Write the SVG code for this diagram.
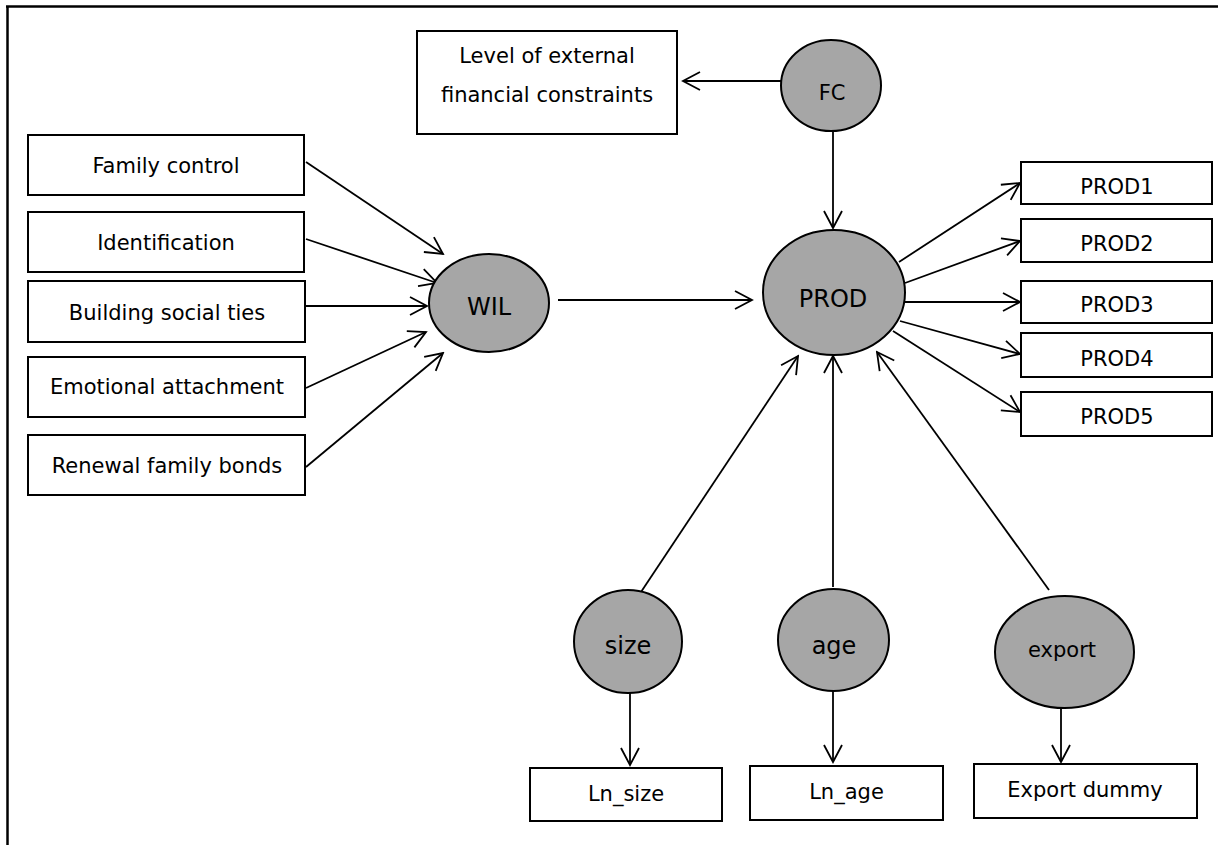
<svg xmlns="http://www.w3.org/2000/svg" width="1218" height="845" viewBox="0 0 1218 845">
<defs>
<style>
.box{fill:#fff;stroke:#000;stroke-width:2}
.lat{fill:#a6a6a6;stroke:#000;stroke-width:2}
.t{font-family:"DejaVu Sans","Liberation Sans",sans-serif;font-size:21px;fill:#000;text-anchor:middle}
.tl{font-family:"DejaVu Sans","Liberation Sans",sans-serif;font-size:24px;fill:#000;text-anchor:middle}
.c{stroke:#000;stroke-width:1.8;fill:none;marker-end:url(#ah)}
</style>
<marker id="ah" viewBox="-20 -12 22 24" refX="0" refY="0" markerWidth="22" markerHeight="24" markerUnits="userSpaceOnUse" orient="auto">
<path d="M-17,-9 L0,0 L-17,9" fill="none" stroke="#000" stroke-width="1.8"/>
</marker>
</defs>
<rect width="1218" height="845" fill="#fff"/>
<g id="frame" stroke="#000" stroke-width="2.5" fill="none">
<line x1="6" y1="6.5" x2="1218" y2="6.5"/>
<line x1="7.5" y1="6" x2="7.5" y2="845"/>
</g>
<g id="connectors">
<line class="c" x1="781" y1="81" x2="683" y2="81"/>
<line class="c" x1="833" y1="131" x2="833" y2="228"/>
<line class="c" x1="306" y1="162" x2="443" y2="254"/>
<line class="c" x1="306" y1="239" x2="437" y2="283"/>
<line class="c" x1="305" y1="306" x2="427" y2="306"/>
<line class="c" x1="306" y1="388" x2="426" y2="332"/>
<line class="c" x1="306" y1="467" x2="443" y2="353"/>
<line class="c" x1="558" y1="300" x2="752" y2="300"/>
<line class="c" x1="899" y1="262" x2="1020" y2="183"/>
<line class="c" x1="905" y1="283" x2="1020" y2="241"/>
<line class="c" x1="905" y1="302" x2="1020" y2="302"/>
<line class="c" x1="900" y1="321" x2="1020" y2="354"/>
<line class="c" x1="893" y1="331" x2="1020" y2="412"/>
<line class="c" x1="641" y1="592" x2="798" y2="356"/>
<line class="c" x1="833" y1="587" x2="833" y2="356"/>
<line class="c" x1="1049" y1="590" x2="877" y2="352"/>
<line class="c" x1="630" y1="693" x2="630" y2="765"/>
<line class="c" x1="833" y1="691" x2="833" y2="762"/>
<line class="c" x1="1061" y1="708" x2="1061" y2="762"/>
</g>
<g id="level-external">
<rect class="box" x="417" y="31" width="260" height="103"/>
<text class="t" x="547" y="63">Level of external</text>
<text class="t" x="547" y="102">financial constraints</text>
</g>
<g id="FC">
<ellipse class="lat" cx="831" cy="85.5" rx="50" ry="45.5"/>
<text class="t" x="832" y="100">FC</text>
</g>
<g id="family-control">
<rect class="box" x="28" y="135" width="276" height="60"/>
<text class="t" x="166" y="173">Family control</text>
</g>
<g id="identification">
<rect class="box" x="28" y="212" width="276" height="60"/>
<text class="t" x="166" y="250">Identification</text>
</g>
<g id="building-social-ties">
<rect class="box" x="28" y="281" width="277" height="61"/>
<text class="t" x="167" y="320">Building social ties</text>
</g>
<g id="emotional-attachment">
<rect class="box" x="28" y="357" width="277" height="60"/>
<text class="t" x="167" y="394">Emotional attachment</text>
</g>
<g id="renewal-family-bonds">
<rect class="box" x="28" y="435" width="277" height="60"/>
<text class="t" x="167" y="473">Renewal family bonds</text>
</g>
<g id="WIL">
<ellipse class="lat" cx="489" cy="303" rx="60" ry="49"/>
<text class="tl" x="489" y="315">WIL</text>
</g>
<g id="PROD">
<ellipse class="lat" cx="834" cy="292.5" rx="71" ry="62.5"/>
<text class="tl" x="833" y="307">PROD</text>
</g>
<g id="PROD1">
<rect class="box" x="1021" y="162" width="191" height="42"/>
<text class="t" x="1117" y="194">PROD1</text>
</g>
<g id="PROD2">
<rect class="box" x="1021" y="219" width="191" height="43"/>
<text class="t" x="1117" y="251">PROD2</text>
</g>
<g id="PROD3">
<rect class="box" x="1021" y="281" width="191" height="42"/>
<text class="t" x="1117" y="312">PROD3</text>
</g>
<g id="PROD4">
<rect class="box" x="1021" y="333" width="191" height="44"/>
<text class="t" x="1117" y="366">PROD4</text>
</g>
<g id="PROD5">
<rect class="box" x="1021" y="392" width="191" height="44"/>
<text class="t" x="1117" y="424">PROD5</text>
</g>
<g id="size">
<ellipse class="lat" cx="628" cy="641.5" rx="54" ry="51.5"/>
<text class="tl" x="628" y="654">size</text>
</g>
<g id="age">
<ellipse class="lat" cx="833.5" cy="640" rx="55.5" ry="51"/>
<text class="tl" x="834" y="654">age</text>
</g>
<g id="export">
<ellipse class="lat" cx="1064.5" cy="652" rx="69.5" ry="56"/>
<text class="t" x="1062" y="657">export</text>
</g>
<g id="Ln_size">
<rect class="box" x="530" y="768" width="192" height="53"/>
<text class="t" x="626" y="801">Ln_size</text>
</g>
<g id="Ln_age">
<rect class="box" x="750" y="766" width="193" height="54"/>
<text class="t" x="846.5" y="799">Ln_age</text>
</g>
<g id="export-dummy">
<rect class="box" x="974" y="764" width="223" height="54"/>
<text class="t" x="1085" y="797">Export dummy</text>
</g>
</svg>
